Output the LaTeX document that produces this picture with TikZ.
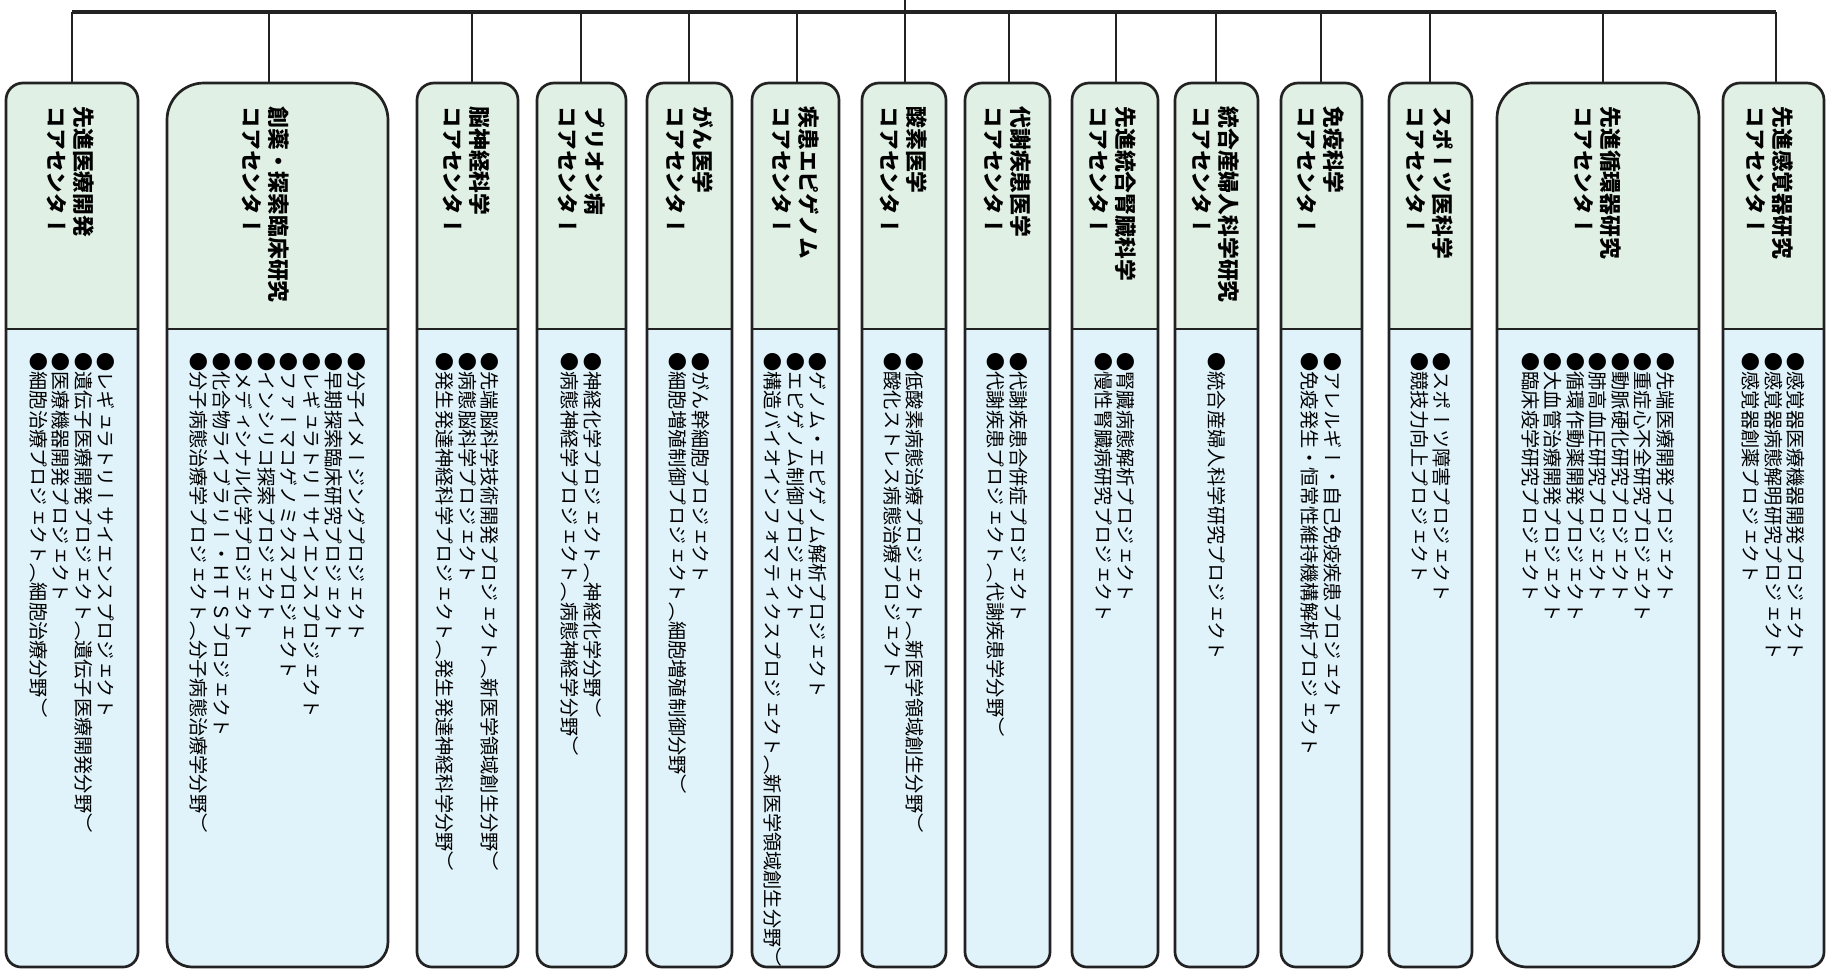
\documentclass[tikz,border=0pt]{standalone}
\usepackage{fontspec}
\newfontfamily\tatefont[Vertical=RotatedGlyphs]{Noto Sans CJK JP}
\definecolor{hdrfill}{HTML}{E1F0E4}
\definecolor{bodyfill}{HTML}{E0F2FA}
\definecolor{edge}{HTML}{222222}
\tikzset{
  boxline/.style={draw=edge, line width=1.35pt, line join=round},
  divline/.style={draw=edge, line width=1pt},
  drop/.style={draw=edge, line width=1pt},
  bar/.style={draw=edge, line width=1.7pt},
  hdrtext/.style={rotate=-90, anchor=west, align=left, inner sep=0pt, text=black,
    font=\tatefont\bfseries\fontsize{10.9pt}{13.5pt}\selectfont},
  bodytext/.style={rotate=-90, anchor=west, align=left, inner sep=0pt, text=black,
    font=\tatefont\fontsize{9.6pt}{11.25pt}\selectfont},
}
% #1 name #2 left #3 right #4 top radius #5 bottom radius #6 drop x #7 header x #8 header #9 body
\newcommand\corebox[9]{%
  \fill[hdrfill] (#2,-329) -- (#2,{-83-#4}) arc[start angle=180,end angle=90,radius={#4*0.5pt}]
     -- ({#3-#4},-83) arc[start angle=90,end angle=0,radius={#4*0.5pt}] -- (#3,-329) -- cycle;
  \fill[bodyfill] (#3,-329) -- (#3,{-967+#5}) arc[start angle=0,end angle=-90,radius={#5*0.5pt}]
     -- ({#2+#5},-967) arc[start angle=270,end angle=180,radius={#5*0.5pt}] -- (#2,-329) -- cycle;
  \draw[divline] (#2,-329) -- (#3,-329);
  \draw[boxline] (#2,-329) -- (#2,{-83-#4}) arc[start angle=180,end angle=90,radius={#4*0.5pt}]
     -- ({#3-#4},-83) arc[start angle=90,end angle=0,radius={#4*0.5pt}]
     -- (#3,{-967+#5}) arc[start angle=0,end angle=-90,radius={#5*0.5pt}]
     -- ({#2+#5},-967) arc[start angle=270,end angle=180,radius={#5*0.5pt}] -- cycle;
  \coordinate (#1top) at (#6,-83);
  \coordinate (#1bar) at (#6,-12);
  \draw[drop] (#1bar) -- (#1top);
  \node[hdrtext] (#1h) at (#7,-106) {#8};
  \node[bodytext] (#1b) at ({(#2+#3)/2},-352) {#9};
}
\begin{document}
\begin{tikzpicture}[x=0.5pt,y=0.5pt]
\useasboundingbox (0,0) rectangle (1827,-969);
\corebox{b1}{6}{138}{17}{15}{72}{71}{先進医療開発\\コアセンター}
 {●レギュラトリーサイエンスプロジェクト\\●遺伝子医療開発プロジェクト（遺伝子医療開発分野）\\●医療機器開発プロジェクト\\●細胞治療プロジェクト（細胞治療分野）}
\corebox{b2}{167}{388}{37}{25}{269}{266}{創薬・探索臨床研究\\コアセンター}
 {●分子イメージングプロジェクト\\●早期探索臨床研究プロジェクト\\●レギュラトリーサイエンスプロジェクト\\●ファーマコゲノミクスプロジェクト\\●インシリコ探索プロジェクト\\●メディシナル化学プロジェクト\\●化合物ライブラリー・ＨＴＳプロジェクト\\●分子病態治療学プロジェクト（分子病態治療学分野）}
\corebox{b3}{417}{518}{17}{15}{472}{467}{脳神経科学\\コアセンター}
 {●先端脳科学技術開発プロジェクト（新医学領域創生分野）\\●病態脳科学プロジェクト\\●発生発達神経科学プロジェクト（発生発達神経科学分野）}
\corebox{b4}{537}{626}{17}{15}{581}{582}{プリオン病\\コアセンター}
 {●神経化学プロジェクト（神経化学分野）\\●病態神経学プロジェクト（病態神経学分野）}
\corebox{b5}{647}{732}{17}{15}{689}{690}{がん医学\\コアセンター}
 {●がん幹細胞プロジェクト\\●細胞増殖制御プロジェクト（細胞増殖制御分野）}
\corebox{b6}{752}{839}{17}{15}{797}{796}{疾患エピゲノム\\コアセンター}
 {●ゲノム・エピゲノム解析プロジェクト\\●エピゲノム制御プロジェクト\\●構造バイオインフォマティクスプロジェクト（新医学領域創生分野）}
\corebox{b7}{862}{946}{17}{15}{905}{904}{酸素医学\\コアセンター}
 {●低酸素病態治療プロジェクト（新医学領域創生分野）\\●酸化ストレス病態治療プロジェクト}
\corebox{b8}{965}{1050}{17}{15}{1009}{1008}{代謝疾患医学\\コアセンター}
 {●代謝疾患合併症プロジェクト\\●代謝疾患プロジェクト（代謝疾患学分野）}
\corebox{b9}{1072}{1158}{17}{15}{1116}{1113}{先進統合腎臓科学\\コアセンター}
 {●腎臓病態解析プロジェクト\\●慢性腎臓病研究プロジェクト}
\corebox{b10}{1175}{1258}{17}{15}{1216}{1216}{統合産婦人科学研究\\コアセンター}
 {●統合産婦人科学研究プロジェクト}
\corebox{b11}{1281}{1362}{17}{15}{1321}{1321}{免疫科学\\コアセンター}
 {●アレルギー・自己免疫疾患プロジェクト\\●免疫発生・恒常性維持機構解析プロジェクト}
\corebox{b12}{1389}{1472}{17}{15}{1430}{1430}{スポーツ医科学\\コアセンター}
 {●スポーツ障害プロジェクト\\●競技力向上プロジェクト}
\corebox{b13}{1497}{1699}{35}{30}{1603}{1598}{先進循環器研究\\コアセンター}
 {●先端医療開発プロジェクト\\●重症心不全研究プロジェクト\\●動脈硬化研究プロジェクト\\●肺高血圧研究プロジェクト\\●循環作動薬開発プロジェクト\\●大血管治療開発プロジェクト\\●臨床疫学研究プロジェクト}
\corebox{b14}{1723}{1824}{17}{15}{1776}{1770}{先進感覚器研究\\コアセンター}
 {●感覚器医療機器開発プロジェクト\\●感覚器病態解明研究プロジェクト\\●感覚器創薬プロジェクト}
\coordinate (root) at (905,0);
\draw[bar] (b1bar) -- (b14bar);
\draw[drop] (root) -- (b7bar);
\end{tikzpicture}
\end{document}
